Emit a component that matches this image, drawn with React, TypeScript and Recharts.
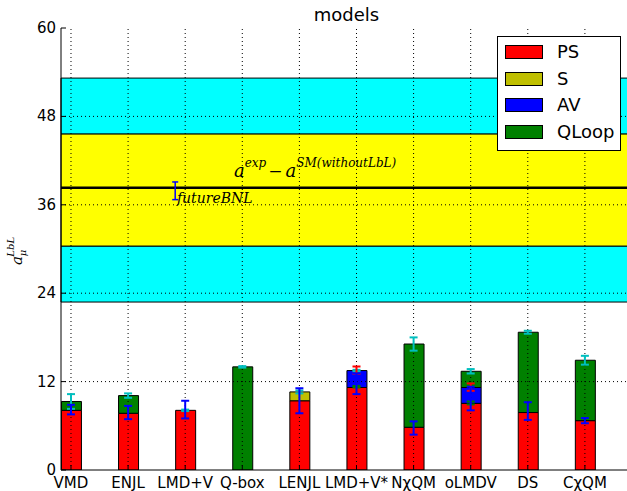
import React from 'react';
import {
  ComposedChart, Bar, XAxis, YAxis, Scatter, ErrorBar, ReferenceArea,
  ReferenceLine, ReferenceDot, Legend,
} from 'recharts';

const categories = ['VMD', 'ENJL', 'LMD+V', 'Q-box', 'LENJL', 'LMD+V*', 'NχQM', 'oLMDV', 'DS', 'CχQM'];
const psValues = [8.1, 7.7, 8.1, 0, 9.4, 11.2, 5.8, 9.05, 7.8, 6.7];
const sValues = [0, 0, 0, 0, 1.2, 0, 0, 0, 0, 0];
const avValues = [0, 0, 0, 0, 0, 2.3, 0, 2.15, 0, 0];
const qloopValues = [1.2, 2.4, 0, 14.0, 0, 0, 11.3, 2.2, 10.9, 8.2];

const psErrCenters = [8.2, 7.8, 8.2, 0, 9.4, 11.7, 5.7, 9.7, 8.0, 6.7];
const psErrors = [0.65, 0.9, 1.2, 0, 1.7, 1.4, 0.9, 1.6, 1.2, 0.35];
const totalErrors = [1.0, 0.3, 0.1, 0.1, 0.2, 0.1, 0.9, 0.3, 0.2, 0.6];
const redErrCats = [5, 7];
const redErrCenters = [13.55, 11.25];
const redErrors = [0.5, 0.5];
const greenErrCats = [5, 7];
const greenErrCenters = [11.3, 9.1];
const greenErrors = [0.1, 0.2];

const yTicks = [0, 12, 24, 36, 48, 60];
const gridY = [12, 24, 36, 48];
const bandOuterLow = 22.8;
const bandInnerLow = 30.4;
const bandInnerHigh = 45.6;
const bandOuterHigh = 53.2;
const expMinusSM = 38.3;
const bnlX = 2.0;
const bnlY = 37.9;
const bnlErr = 1.2;
const formulaX = 3.03;
const formulaY = 39.8;
const bnlLabelX = 2.03;
const bnlLabelY = 36.3;

const BAR_OFFSET = 0.175;
const xPositions = categories.map((_, i) => i + BAR_OFFSET);

const legendItems = [
  { name: 'PS', color: '#ff0000' },
  { name: 'S', color: '#bfbf00' },
  { name: 'AV', color: '#0000ff' },
  { name: 'QLoop', color: '#008000' },
];

const data = categories.map((c, i) => ({
  x: xPositions[i],
  name: c,
  PS: psValues[i],
  S: sValues[i],
  AV: avValues[i],
  QLoop: qloopValues[i],
}));

const psErrData = categories
  .map((_, i) => ({ x: xPositions[i], y: psErrCenters[i], e: psErrors[i] }))
  .filter((d) => d.e > 0);
const totalErrData = categories.map((_, i) => ({
  x: xPositions[i],
  y: psValues[i] + sValues[i] + avValues[i] + qloopValues[i],
  e: totalErrors[i],
}));
const redErrData = redErrCats.map((c, i) => ({ x: xPositions[c], y: redErrCenters[i], e: redErrors[i] }));
const greenErrData = greenErrCats.map((c, i) => ({ x: xPositions[c], y: greenErrCenters[i], e: greenErrors[i] }));
const bnlData = [{ x: bnlX, y: bnlY, e: bnlErr }];

const FONT = '"DejaVu Sans", sans-serif';
const MATH = '"DejaVu Serif", serif';

const LeftTick = (props: any) => {
  const { x, y, payload } = props;
  return (
    <g>
      <line x1={x} x2={x + 5} y1={y} y2={y} stroke="#000" strokeWidth={1} />
      <text x={x - 5} y={y} dy={5} textAnchor="end" fontFamily={FONT} fontSize={15} fill="#000">
        {payload.value}
      </text>
    </g>
  );
};

const BottomTick = (props: any) => {
  const { x, y, index } = props;
  return (
    <g>
      <line x1={x} x2={x} y1={y} y2={y - 5} stroke="#000" strokeWidth={1} />
      <text x={x} y={y} dy={18} textAnchor="middle" fontFamily={FONT} fontSize={15} fill="#000">
        {categories[index]}
      </text>
    </g>
  );
};

const TopTick = (props: any) => {
  const { x, y } = props;
  return <line x1={x} x2={x} y1={y} y2={y + 5} stroke="#000" strokeWidth={1} />;
};

const NoShape = () => <g />;

const YLabel = (props: any) => {
  const vb = props.viewBox || { x: 0, y: 0, width: 0, height: 0 };
  const cx = vb.x + 22;
  const cy = vb.y + vb.height / 2 + 2;
  return (
    <text
      x={cx}
      y={cy}
      transform={`rotate(-90, ${cx}, ${cy})`}
      textAnchor="middle"
      fontFamily={MATH}
      fontStyle="italic"
      fill="#000"
    >
      <tspan fontSize={15}>a</tspan>
      <tspan fontSize={10} dy={4}>μ</tspan>
      <tspan fontSize={10} dx={-7} dy={-12}>LbL</tspan>
    </text>
  );
};

const FormulaLabel = (props: any) => {
  const vb = props.viewBox || { x: 0, y: 0 };
  return (
    <text x={vb.x} y={vb.y} fontFamily={MATH} fontStyle="italic" fill="#000">
      <tspan fontSize={18}>a</tspan>
      <tspan fontSize={12} dy={-10}>exp</tspan>
      <tspan fontSize={17} dy={10} dx={2} fontStyle="normal">−</tspan>
      <tspan fontSize={18} dx={3}>a</tspan>
      <tspan fontSize={12} dy={-10}>SM(withoutLbL)</tspan>
    </text>
  );
};

const BnlLabel = (props: any) => {
  const vb = props.viewBox || { x: 0, y: 0 };
  return (
    <text x={vb.x} y={vb.y} fontFamily={MATH} fontStyle="italic" fontSize={14} fill="#000">
      futureBNL
    </text>
  );
};

const LegendBox = () => (
  <div
    style={{
      width: 122,
      height: 111,
      border: '1px solid #000',
      background: '#fff',
      boxSizing: 'content-box',
      paddingTop: 2,
    }}
  >
    {legendItems.map((it) => (
      <div key={it.name} style={{ height: 26.5, display: 'flex', alignItems: 'center' }}>
        <div
          style={{
            width: 36,
            height: 12,
            background: it.color,
            border: '1px solid #000',
            marginLeft: 7,
          }}
        />
        <span
          style={{
            marginLeft: 14,
            fontFamily: FONT,
            fontSize: 18,
            color: '#000',
            lineHeight: '20px',
          }}
        >
          {it.name}
        </span>
      </div>
    ))}
  </div>
);

export default function App() {
  return (
    <div style={{ position: 'absolute', left: 0, top: 0, width: 627, height: 491, overflow: 'hidden', background: '#fff' }}>
      <div
        style={{
          position: 'absolute',
          left: 61,
          top: 5,
          width: 571,
          textAlign: 'center',
          fontFamily: FONT,
          fontSize: 18,
          lineHeight: '20px',
          color: '#000',
        }}
      >
        models
      </div>
      <ComposedChart
        width={632}
        height={491}
        data={data}
        barSize={20}
        barGap={0}
        barCategoryGap={0}
        margin={{ top: 28, right: 0, left: 0, bottom: 0 }}
      >
        <XAxis
          xAxisId={0}
          dataKey="x"
          type="number"
          domain={[0, 10]}
          ticks={xPositions}
          allowDataOverflow
          height={21}
          tickSize={0}
          tickMargin={0}
          tickLine={false}
          interval={0}
          axisLine={{ stroke: '#000', strokeWidth: 1 }}
          tick={<BottomTick />}
        />
        <XAxis
          xAxisId="top"
          orientation="top"
          dataKey="x"
          type="number"
          domain={[0, 10]}
          ticks={xPositions}
          allowDataOverflow
          height={0}
          tickSize={0}
          tickMargin={0}
          tickLine={false}
          interval={0}
          axisLine={{ stroke: '#000', strokeWidth: 1 }}
          tick={<TopTick />}
        />
        <YAxis
          type="number"
          domain={[0, 60]}
          ticks={yTicks}
          allowDataOverflow
          width={61}
          tickSize={0}
          tickMargin={0}
          tickLine={false}
          interval={0}
          axisLine={{ stroke: '#000', strokeWidth: 1 }}
          tick={<LeftTick />}
          label={<YLabel />}
        />
        <ReferenceArea y1={bandOuterLow} y2={bandInnerLow} fill="#00ffff" fillOpacity={1} stroke="#000" strokeWidth={1} ifOverflow="visible" />
        <ReferenceArea y1={bandInnerHigh} y2={bandOuterHigh} fill="#00ffff" fillOpacity={1} stroke="#000" strokeWidth={1} ifOverflow="visible" />
        <ReferenceArea y1={bandInnerLow} y2={bandInnerHigh} fill="#ffff00" fillOpacity={1} stroke="#000" strokeWidth={1} ifOverflow="visible" />
        <ReferenceLine y={expMinusSM} stroke="#000" strokeWidth={2.5} />

        <Bar dataKey="PS" stackId="a" fill="#ff0000" stroke="#000" strokeWidth={1} barSize={20} isAnimationActive={false} />
        <Bar dataKey="S" stackId="a" fill="#bfbf00" stroke="#000" strokeWidth={1} barSize={20} isAnimationActive={false} />
        <Bar dataKey="AV" stackId="a" fill="#0000ff" stroke="#000" strokeWidth={1} barSize={20} isAnimationActive={false} />
        <Bar dataKey="QLoop" stackId="a" fill="#008000" stroke="#000" strokeWidth={1} barSize={20} isAnimationActive={false} />

        {gridY.map((v) => (
          <ReferenceLine key={'gy' + v} y={v} stroke="#000" strokeWidth={1} strokeDasharray="1 3" />
        ))}
        {xPositions.map((v) => (
          <ReferenceLine key={'gx' + v} x={v} stroke="#000" strokeWidth={1} strokeDasharray="1 3" />
        ))}

        <Scatter data={totalErrData} dataKey="y" shape={NoShape} isAnimationActive={false}>
          <ErrorBar dataKey="e" direction="y" width={4} stroke="#00bfbf" strokeWidth={2} />
        </Scatter>
        <Scatter data={greenErrData} dataKey="y" shape={NoShape} isAnimationActive={false}>
          <ErrorBar dataKey="e" direction="y" width={4} stroke="#008000" strokeWidth={2} />
        </Scatter>
        <Scatter data={redErrData} dataKey="y" shape={NoShape} isAnimationActive={false}>
          <ErrorBar dataKey="e" direction="y" width={4} stroke="#ff0000" strokeWidth={2} />
        </Scatter>
        <Scatter data={psErrData} dataKey="y" shape={NoShape} isAnimationActive={false}>
          <ErrorBar dataKey="e" direction="y" width={4} stroke="#0000ff" strokeWidth={2} />
        </Scatter>
        <Scatter xAxisId="top" data={bnlData} dataKey="y" shape={NoShape} isAnimationActive={false}>
          <ErrorBar dataKey="e" direction="y" width={3} stroke="#0000ff" strokeWidth={1.5} />
        </Scatter>

        <ReferenceDot x={formulaX} y={formulaY} r={0} shape={NoShape} label={<FormulaLabel />} />
        <ReferenceDot xAxisId="top" x={bnlLabelX} y={bnlLabelY} r={0} shape={NoShape} label={<BnlLabel />} />

        <Legend
          layout="vertical"
          align="center"
          verticalAlign="middle"
          content={<LegendBox />}
          wrapperStyle={{ position: 'absolute', left: 497, top: 36, width: 124, height: 115 }}
        />
      </ComposedChart>
    </div>
  );
}
